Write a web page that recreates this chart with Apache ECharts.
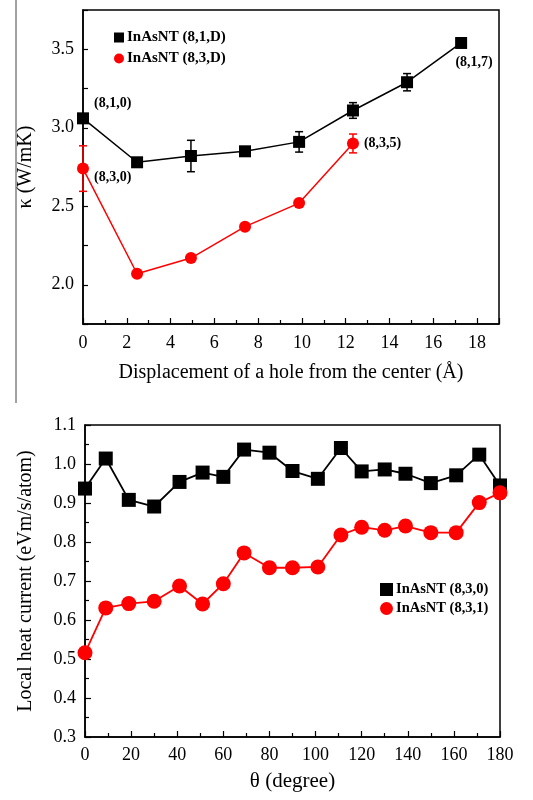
<!DOCTYPE html>
<html>
<head>
<meta charset="utf-8">
<script src="https://cdn.jsdelivr.net/npm/echarts@6/dist/echarts.min.js"></script>
<style>
html, body { margin: 0; padding: 0; background: #fff; }
#mychart { width: 533px; height: 800px; }
</style>
</head>
<body>
<div id="mychart"></div>
<script>
// top panel: thermal conductivity vs hole displacement
let disp = [0, 2.47, 4.93, 7.4, 9.87, 12.33, 14.8, 17.27]
let kappa81 = [3.06, 2.78, 2.82, 2.85, 2.91, 3.11, 3.29, 3.54]
let err81 = [0, 0, 0.1, 0, 0.065, 0.05, 0.055, 0.02]
let tags81 = ['(8,1,0)', '', '', '', '', '', '', '(8,1,7)']
let dispRed = [0, 2.47, 4.93, 7.4, 9.87, 12.33]
let kappa83 = [2.74, 2.07, 2.17, 2.37, 2.52, 2.90]
let err83 = [0.145, 0, 0, 0, 0, 0.06]
let tags83 = ['(8,3,0)', '', '', '', '', '(8,3,5)']

// bottom panel: local heat current vs angle
let theta = [0, 9, 19, 30, 41, 51, 60, 69, 80, 90, 101, 111, 120, 130, 139, 150, 161, 171, 180]
let heat830 = [0.937, 1.014, 0.908, 0.891, 0.954, 0.978, 0.967, 1.037, 1.029, 0.982, 0.962, 1.041, 0.981, 0.986, 0.975, 0.951, 0.971, 1.024, 0.945]
let heat831 = [0.516, 0.631, 0.642, 0.648, 0.687, 0.641, 0.693, 0.772, 0.734, 0.734, 0.736, 0.818, 0.838, 0.830, 0.841, 0.824, 0.824, 0.901, 0.926]

const FONT = 'Liberation Serif'
const RED = '#ff0000'

function pairs(xs, ys) {
    return xs.map((x, i) => [x, ys[i]])
}

function tagged(xs, ys, tags, labelCfg) {
    return xs.map((x, i) => {
        let item = { value: [x, ys[i]] }
        if (tags[i]) {
            item.label = Object.assign({ show: true, formatter: tags[i] }, labelCfg[tags[i]])
        }
        return item
    })
}

function errData(xs, ys, es) {
    let out = []
    for (let i = 0; i < xs.length; i++) {
        if (es[i] > 0) out.push([xs[i], ys[i] - es[i], ys[i] + es[i]])
    }
    return out
}

function errBar(color) {
    return function (params, api) {
        let lo = api.coord([api.value(0), api.value(1)])
        let hi = api.coord([api.value(0), api.value(2)])
        let w = 4
        let st = { stroke: color, lineWidth: 1.5 }
        return {
            type: 'group',
            children: [
                { type: 'line', shape: { x1: lo[0], y1: lo[1], x2: hi[0], y2: hi[1] }, style: st },
                { type: 'line', shape: { x1: lo[0] - w, y1: lo[1], x2: lo[0] + w, y2: lo[1] }, style: st },
                { type: 'line', shape: { x1: hi[0] - w, y1: hi[1], x2: hi[0] + w, y2: hi[1] }, style: st }
            ]
        }
    }
}

let tagStyle = { fontFamily: FONT, fontWeight: 'bold', fontSize: 14, color: '#000' }
let labelCfg = {
    '(8,1,0)': Object.assign({ position: 'right', offset: [0, -15] }, tagStyle),
    '(8,1,7)': Object.assign({ position: 'bottom', offset: [13, 1] }, tagStyle),
    '(8,3,0)': Object.assign({ position: 'right', offset: [0, 9] }, tagStyle),
    '(8,3,5)': Object.assign({ position: 'right', offset: [0, 0] }, tagStyle)
}

let axisLine = { lineStyle: { color: '#000', width: 1.5 } }
let tickLabel = { fontFamily: FONT, fontSize: 18, color: '#000' }
let nameStyle = { fontFamily: FONT, fontSize: 20, color: '#000' }

let myChart = echarts.init(document.getElementById('mychart'))

let option = {
    backgroundColor: '#fff',
    animation: false,
    graphic: [{
        type: 'line',
        shape: { x1: 16, y1: 0, x2: 16, y2: 403 },
        style: { stroke: '#444', lineWidth: 1 }
    }],
    grid: [
        { left: 83, width: 416, top: 10, height: 314, show: true, borderColor: '#000', borderWidth: 1.5 },
        { left: 85, width: 415, top: 425, height: 312, show: true, borderColor: '#000', borderWidth: 1.5 }
    ],
    legend: [
        {
            left: 109, top: 25, orient: 'vertical', itemGap: 6,
            itemWidth: 10, itemHeight: 10,
            textStyle: { fontFamily: FONT, fontWeight: 'bold', fontSize: 15, color: '#000', padding: [0, 0, 0, -2] },
            data: [
                { name: 'InAsNT (8,1,D)', icon: 'rect', itemStyle: { color: '#000' } },
                { name: 'InAsNT (8,3,D)', icon: 'circle', itemStyle: { color: RED } }
            ]
        },
        {
            left: 375, top: 577, orient: 'vertical', itemGap: 4,
            itemWidth: 13, itemHeight: 13,
            textStyle: { fontFamily: FONT, fontWeight: 'bold', fontSize: 14.5, color: '#000', padding: [0, 0, 0, -2] },
            data: [
                { name: 'InAsNT (8,3,0)', icon: 'rect', itemStyle: { color: '#000' } },
                { name: 'InAsNT (8,3,1)', icon: 'circle', itemStyle: { color: RED } }
            ]
        }
    ],
    xAxis: [
        {
            gridIndex: 0, type: 'value', min: 0, max: 19, interval: 2,
            name: 'Displacement of a hole from the center (Å)',
            nameLocation: 'middle', nameGap: 39, nameTextStyle: nameStyle,
            axisLine: axisLine,
            axisTick: { inside: true, length: 6, lineStyle: { color: '#000', width: 1.2 } },
            minorTick: { show: true, splitNumber: 2, length: 4, lineStyle: { color: '#000', width: 1.2 } },
            axisLabel: Object.assign({ margin: 10, formatter: v => (v % 2 === 0 ? String(v) : '') }, tickLabel),
            splitLine: { show: false }
        },
        {
            gridIndex: 1, type: 'value', min: 0, max: 180, interval: 20,
            name: 'θ (degree)',
            nameLocation: 'middle', nameGap: 34, nameTextStyle: Object.assign({}, nameStyle, { fontSize: 21 }),
            axisLine: axisLine,
            axisTick: { inside: true, length: 6, lineStyle: { color: '#000', width: 1.2 } },
            minorTick: { show: true, splitNumber: 2, length: 4, lineStyle: { color: '#000', width: 1.2 } },
            axisLabel: Object.assign({ margin: 9 }, tickLabel),
            splitLine: { show: false }
        }
    ],
    yAxis: [
        {
            gridIndex: 0, type: 'value', min: 1.75, max: 3.75, interval: 0.25,
            name: 'κ (W/mK)',
            nameLocation: 'middle', nameGap: 47, nameTextStyle: nameStyle,
            axisLine: axisLine,
            axisTick: { inside: true, length: 5, lineStyle: { color: '#000', width: 1.2 } },
            axisLabel: Object.assign({
                margin: 9,
                formatter: v => (Math.abs(v * 2 - Math.round(v * 2)) < 1e-6 ? v.toFixed(1) : '')
            }, tickLabel),
            splitLine: { show: false }
        },
        {
            gridIndex: 1, type: 'value', min: 0.3, max: 1.1, interval: 0.1,
            name: 'Local heat current (eVm/s/atom)',
            nameLocation: 'middle', nameGap: 49, nameTextStyle: nameStyle,
            axisLine: axisLine,
            axisTick: { inside: true, length: 6, lineStyle: { color: '#000', width: 1.2 } },
            minorTick: { show: true, splitNumber: 2, length: 4, lineStyle: { color: '#000', width: 1.2 } },
            axisLabel: Object.assign({ margin: 9, formatter: v => v.toFixed(1) }, tickLabel),
            splitLine: { show: false }
        }
    ],
    series: [
        {
            name: 'err81', type: 'custom', xAxisIndex: 0, yAxisIndex: 0,
            renderItem: errBar('#000'), data: errData(disp, kappa81, err81), z: 3
        },
        {
            name: 'InAsNT (8,1,D)', type: 'line', xAxisIndex: 0, yAxisIndex: 0,
            data: tagged(disp, kappa81, tags81, labelCfg),
            symbol: 'rect', symbolSize: 12,
            itemStyle: { color: '#000' }, lineStyle: { color: '#000', width: 1.5 }, z: 4
        },
        {
            name: 'err83', type: 'custom', xAxisIndex: 0, yAxisIndex: 0,
            renderItem: errBar(RED), data: errData(dispRed, kappa83, err83), z: 5
        },
        {
            name: 'InAsNT (8,3,D)', type: 'line', xAxisIndex: 0, yAxisIndex: 0,
            data: tagged(dispRed, kappa83, tags83, labelCfg),
            symbol: 'circle', symbolSize: 12,
            itemStyle: { color: RED }, lineStyle: { color: RED, width: 1.5 }, z: 6
        },
        {
            name: 'InAsNT (8,3,0)', type: 'line', xAxisIndex: 1, yAxisIndex: 1,
            data: pairs(theta, heat830),
            symbol: 'rect', symbolSize: 14,
            itemStyle: { color: '#000' }, lineStyle: { color: '#000', width: 1.8 }, z: 4
        },
        {
            name: 'InAsNT (8,3,1)', type: 'line', xAxisIndex: 1, yAxisIndex: 1,
            data: pairs(theta, heat831),
            symbol: 'circle', symbolSize: 15,
            itemStyle: { color: RED }, lineStyle: { color: RED, width: 1.8 }, z: 6
        }
    ]
}
myChart.setOption(option)
</script>
</body>
</html>
